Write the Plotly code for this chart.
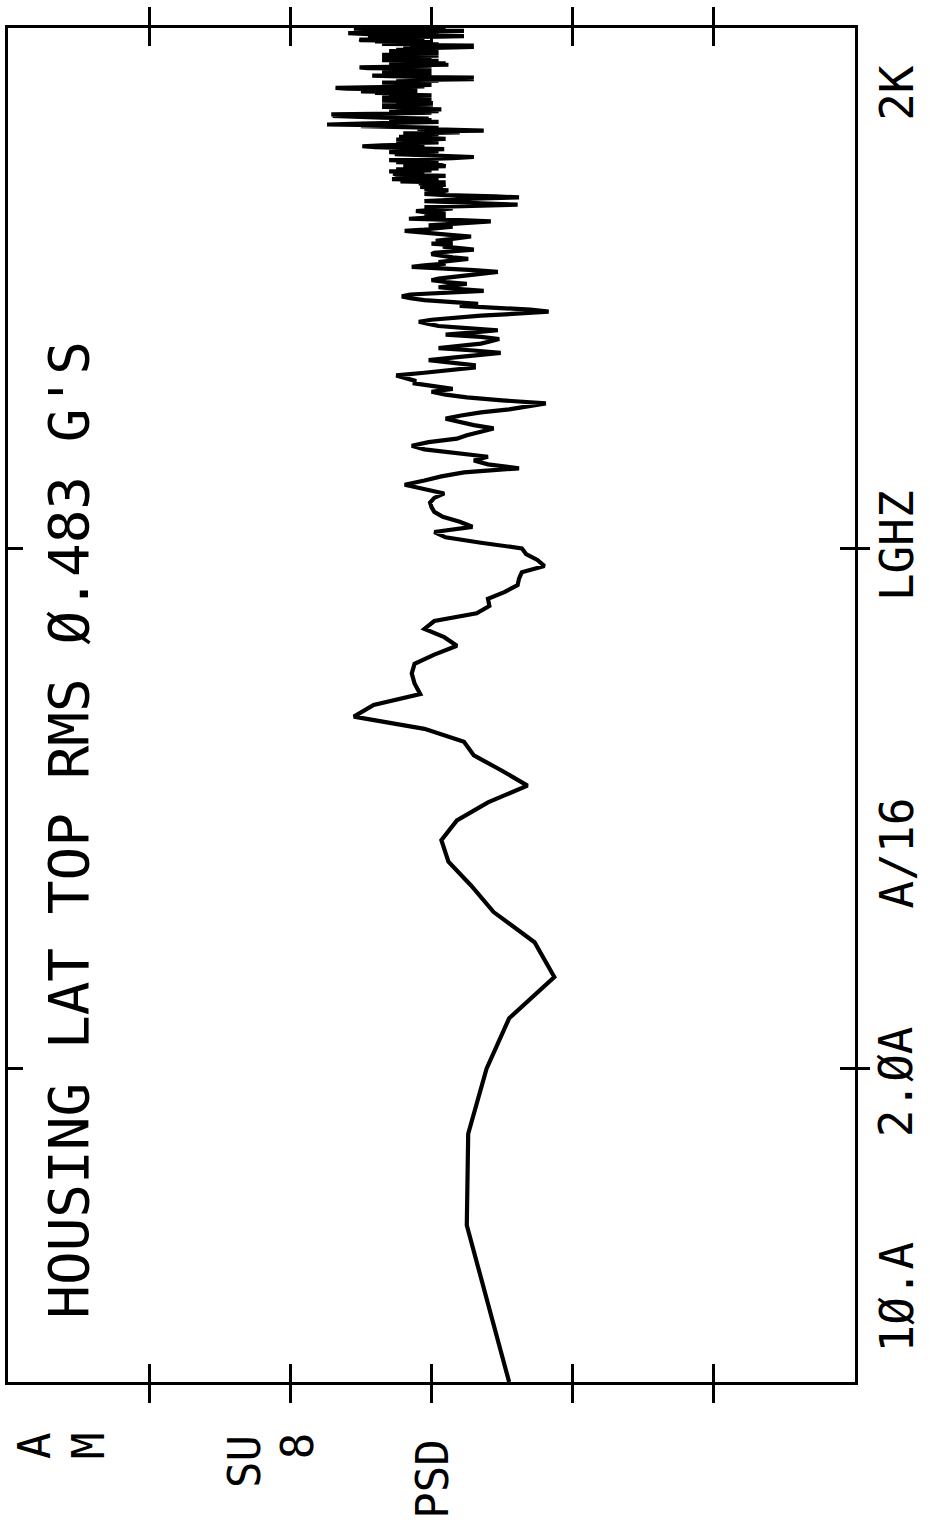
import math
import plotly.graph_objects as go

# ---------------- data ----------------
# frequency bins (Hz) of the analyser: 5 Hz resolution
freq_low = list(range(5, 255, 5))      # 5 .. 250 Hz
freq_mid = list(range(255, 1005, 5))   # 255 .. 1000 Hz
freq_high = list(range(1005, 2005, 5)) # 1005 .. 2000 Hz

# PSD level (dB, relative to the top of the plot scale)
psd_low = [
    -35.5, -32.5, -32.6, -33.9, -35.5, -38.7, -37.3, -34.4, -32.8, -31.2,
    -30.7, -31.8, -34.0, -36.8, -34.9, -33.0, -32.3, -29.5, -24.5, -25.9,
    -29.2, -28.8, -28.6, -28.8, -30.2, -31.8, -30.9, -29.5, -30.2, -33.2,
    -34.1, -34.0, -35.2, -36.1, -36.2, -36.4, -38.0, -37.5, -36.7, -36.4,
    -33.5, -31.0, -30.2, -32.9, -32.0, -30.8, -30.2, -30.0, -29.9, -30.2,
]
psd_mid = [
    -30.9, -29.6, -28.1, -29.5, -30.7, -32.3, -36.2, -34.0, -33.0, -34.0,
    -31.5, -29.5, -28.6, -29.8, -31.8, -32.5, -33.5, -34.4, -33.0, -32.0,
    -31.0, -32.1, -33.5, -35.5, -37.0, -38.1, -35.0, -32.5, -31.0, -30.0,
    -31.5, -30.0, -28.8, -28.8, -28.0, -27.5, -29.5, -31.5, -33.0, -33.0,
    -31.0, -29.8, -31.5, -33.5, -34.9, -33.0, -30.5, -32.0, -33.5, -34.2,
    -34.8, -33.5, -31.0, -33.0, -34.7, -32.5, -30.5, -29.8, -29.1, -30.0,
    -31.5, -33.5, -36.0, -38.3, -37.0, -34.0, -32.0, -33.3, -31.0, -29.5,
    -28.5, -27.9, -28.5, -31.0, -33.7, -32.0, -30.5, -31.6, -32.5, -31.0,
    -30.0, -30.5, -31.5, -32.5, -33.5, -34.7, -33.0, -30.5, -28.6, -29.5,
    -31.0, -30.5, -31.8, -32.6, -31.5, -30.5, -30.0, -30.2, -31.5, -33.0,
    -32.0, -30.8, -31.5, -30.0, -31.5, -30.3, -31.2, -32.0, -32.8, -31.5,
    -30.0, -29.0, -28.1, -29.5, -30.5, -31.5, -29.8, -31.5, -33.0, -34.2,
    -32.0, -28.4, -30.0, -31.0, -29.5, -31.0, -29.5, -28.9, -30.5, -31.5,
    -29.5, -32.5, -36.1, -34.0, -30.5, -29.5, -31.5, -33.0, -36.2, -34.5,
    -31.0, -29.5, -31.0, -30.0, -31.2, -29.5, -30.8, -29.2, -30.5, -31.0,
]
psd_high = [
    -29.1, -31.0, -27.8, -30.5, -27.2, -30.2, -28.0, -31.0, -27.5, -27.3,
    -29.5, -27.0, -30.0, -27.5, -30.5, -28.0, -31.0, -30.7, -28.0, -30.5,
    -27.5, -30.0, -27.0, -30.5, -31.5, -33.0, -31.0, -29.5, -27.4, -29.5,
    -27.0, -30.5, -28.0, -30.9, -27.5, -26.0, -25.1, -26.5, -29.5, -27.5,
    -30.5, -27.7, -30.0, -27.5, -31.0, -28.0, -27.7, -30.5, -28.0, -30.5,
    -28.0, -32.0, -29.0, -33.7, -31.0, -29.0, -30.5, -27.0, -25.0, -27.0,
    -22.6, -25.0, -28.0, -30.5, -27.5, -30.0, -27.0, -29.8, -26.5, -25.0,
    -23.0, -25.5, -22.9, -27.5, -30.0, -27.0, -30.5, -28.0, -30.7, -27.5,
    -29.5, -26.5, -29.0, -26.5, -30.1, -27.5, -30.1, -28.0, -30.0, -26.5,
    -29.0, -27.0, -30.0, -26.5, -29.5, -27.0, -30.0, -27.5, -29.0, -26.0,
    -28.5, -25.0, -29.0, -26.0, -27.5, -24.0, -23.2, -26.5, -29.5, -27.0,
    -30.0, -27.0, -29.5, -26.5, -30.0, -27.5, -30.5, -29.0, -33.0, -31.0,
    -33.0, -29.0, -27.0, -25.8, -28.0, -30.0, -27.0, -30.0, -26.5, -29.5,
    -27.0, -30.0, -26.5, -29.5, -25.5, -24.9, -27.0, -30.0, -28.0, -31.2,
    -29.0, -31.0, -27.0, -30.0, -27.5, -30.5, -26.5, -29.5, -27.0, -30.0,
    -26.5, -30.0, -27.5, -30.5, -26.5, -29.5, -27.0, -30.5, -27.0, -29.5,
    -27.0, -30.5, -27.5, -30.0, -28.0, -31.5, -29.5, -33.0, -31.0, -33.0,
    -28.5, -30.5, -26.5, -29.5, -27.0, -30.0, -26.0, -28.5, -25.0, -24.9,
    -27.5, -25.5, -29.5, -27.0, -30.5, -32.3, -28.5, -30.5, -26.0, -25.0,
    -24.1, -28.0, -25.5, -30.0, -32.3, -28.0, -31.0, -26.0, -24.5, -28.5,
]

freq = freq_low + freq_mid + freq_high
psd = psd_low + psd_mid + psd_high

psd_range = [0, -60]
psd_ticks = [-10, -20, -30, -40, -50]
freq_range = [5, 2000]
freq_ticks = [20, 200]

title_text = "HOUSING LAT TOP RMS Ø.483 G'S"
freq_labels = ["1Ø.A", "2.ØA", "A/16", "LGHZ", "2K"]
freq_label_pos = [0.063, 0.222, 0.391, 0.618, 0.952]
psd_labels = ["A", "M", "SU", "8", "PSD"]
psd_label_pos = [(0.031, -0.047), (0.095, -0.047), (0.280, -0.059),
                 (0.342, -0.047), (0.501, -0.072)]

FONT = "DejaVu Sans Mono"
INK = "black"

# ---------------- figure ----------------
fig = go.Figure()
fig.add_trace(go.Scatter(
    x=psd, y=freq, mode="lines",
    line=dict(color=INK, width=4.2),
    hoverinfo="skip", showlegend=False,
))
# helper trace to create the overlay axes (crossing ticks)
fig.add_trace(go.Scatter(
    x=[psd[0]], y=[freq[0]], xaxis="x2", yaxis="y2", mode="markers",
    marker=dict(opacity=0), hoverinfo="skip", showlegend=False,
))

common = dict(showgrid=False, zeroline=False, showline=True, linecolor=INK,
              linewidth=2.5, tickcolor=INK, tickwidth=3, showticklabels=False)
log_range = [math.log10(freq_range[0]), math.log10(freq_range[1])]

fig.update_layout(
    width=930, height=1537,
    margin=dict(l=5, r=75, t=28, b=155, pad=0),
    paper_bgcolor="white", plot_bgcolor="white",
    showlegend=False,
    xaxis=dict(range=psd_range, tickvals=psd_ticks, ticks="outside",
               ticklen=18, mirror="ticks", **common),
    xaxis2=dict(range=psd_range, tickvals=psd_ticks, ticks="inside",
                ticklen=18, mirror="ticks", overlaying="x", matches="x",
                anchor="y2", side="bottom", **common),
    yaxis=dict(type="log", range=log_range, tickvals=freq_ticks,
               ticks="inside", ticklen=15, mirror="ticks", side="right",
               **common),
    yaxis2=dict(type="log", range=log_range, tickvals=freq_ticks,
                ticks="outside", ticklen=12, overlaying="y", matches="y",
                anchor="x2", side="right", **common),
)

annotations = [dict(
    text=title_text, x=0.0718, y=0.4077, xref="paper", yref="paper",
    textangle=-90, showarrow=False, xanchor="center", yanchor="middle",
    font=dict(family=FONT, size=56, color=INK),
)]
for lab, yp in zip(freq_labels, freq_label_pos):
    annotations.append(dict(
        text=lab, x=1.0494, y=yp, xref="paper", yref="paper",
        textangle=-90, showarrow=False, xanchor="center", yanchor="middle",
        font=dict(family=FONT, size=46, color=INK),
    ))
for lab, (xp, yp) in zip(psd_labels, psd_label_pos):
    annotations.append(dict(
        text=lab, x=xp, y=yp, xref="paper", yref="paper",
        textangle=-90, showarrow=False, xanchor="center", yanchor="middle",
        font=dict(family=FONT, size=44, color=INK),
    ))
fig.update_layout(annotations=annotations)

fig.write_html("out.html")
